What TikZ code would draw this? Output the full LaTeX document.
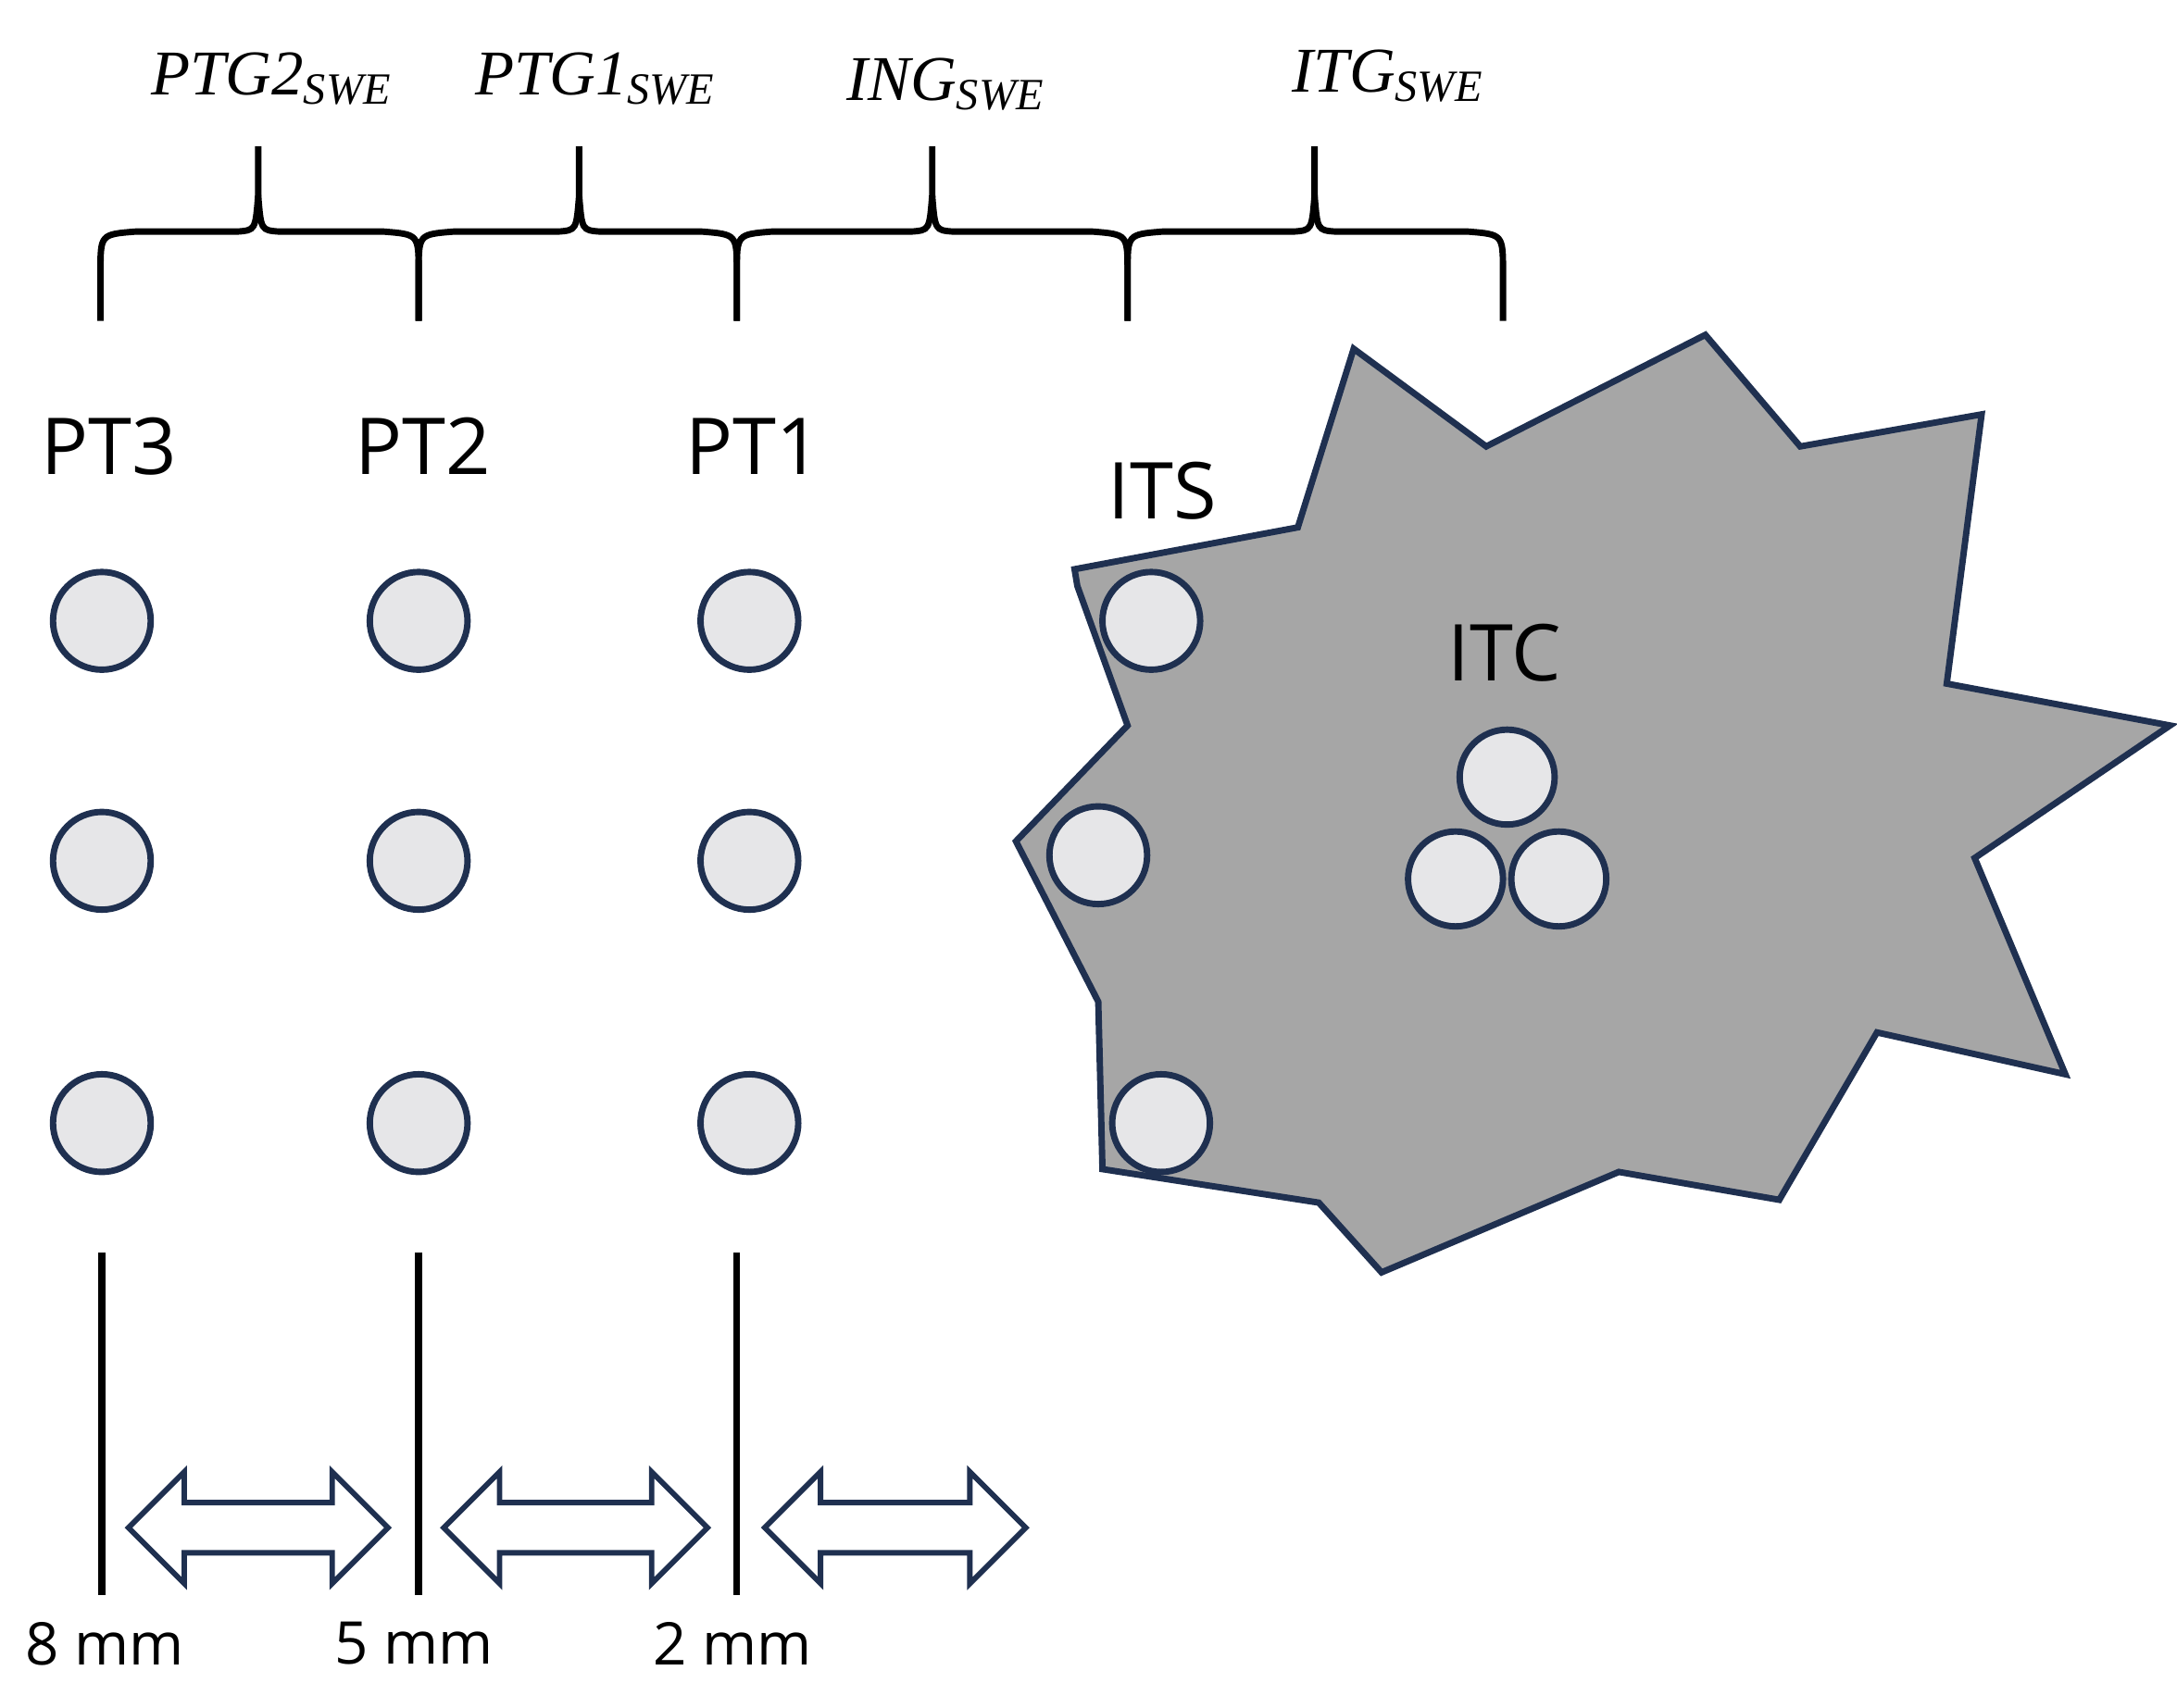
\documentclass[tikz,border=0pt]{standalone}
\usepackage{fontspec}
\setmainfont{Open Sans}
\newfontfamily\serifit{Liberation Serif}
\begin{document}
\begin{tikzpicture}[x=0.01cm,y=-0.01cm,
  navy/.style={draw={rgb,255:red,31;green,48;blue,80},line width=1.3pt},
  dot/.style={navy,fill={rgb,255:red,230;green,230;blue,232},circle,minimum size=0.7cm,inner sep=0},
  lbl/.style={font=\fontsize{16}{18}\selectfont},
  mm/.style={font=\fontsize{12}{14}\selectfont},
  brlab/.style={font=\serifit\itshape\fontsize{13}{15}\selectfont},
  brace/.style={line width=1.3pt,black},
  vline/.style={line width=1.4pt,black},
  darr/.style={navy,fill=white,line width=1.1pt}]
\useasboundingbox (0,0) rectangle (1560,1224);
% star
\path[navy,fill={rgb,255:red,166;green,166;blue,166}]
 (770,408) -- (930,378) -- (970,250) -- (1065,320) -- (1222,240) -- (1290,320) -- (1420,297) -- (1395,490) -- (1555,520) -- (1415,615) -- (1480,770) -- (1345,740) -- (1275,860) -- (1160,840) -- (990,912) -- (945,862) -- (790,838) -- (787,718) -- (728,603) -- (808,520) -- (772,420) -- cycle;
% dots
\foreach \x/\c in {73/3,300/2,537/1}{
  \node[dot] (r1c\c) at (\x,445) {};
  \node[dot] (r2c\c) at (\x,617) {};
  \node[dot] (r3c\c) at (\x,805) {};
}
\node[dot] (its1) at (825,445) {};
\node[dot] (its2) at (787,613) {};
\node[dot] (its3) at (832,805) {};
\node[dot,minimum size=0.68cm] (itc1) at (1080,557) {};
\node[dot,minimum size=0.68cm] (itc2) at (1043,630) {};
\node[dot,minimum size=0.68cm] (itc3) at (1117,630) {};
% labels
\node[lbl] (pt3) at (78,320) {PT3};
\node[lbl] (pt2) at (303,320) {PT2};
\node[lbl] (pt1) at (540,320) {PT1};
\node[lbl] (its) at (833,352) {ITS};
\node[lbl] (itc) at (1078,468) {ITC};
% braces
\foreach \a/\t/\b in {72/185/300,300/415/528,528/668/808,808/942/1077}{
  \draw[brace] (\a,230) -- (\a,195) .. controls (\a,168) .. (\a+25,166) -- (\t-15,166) .. controls (\t-2,165) .. (\t,140) -- (\t,105);
  \draw[brace] (\b,230) -- (\b,195) .. controls (\b,168) .. (\b-25,166) -- (\t+15,166) .. controls (\t+2,165) .. (\t,140);
}
\node[brlab,anchor=base] (g1) at (195,68) {PTG2\textsubscript{SWE}};
\node[brlab,anchor=base] (g2) at (427,68) {PTG1\textsubscript{SWE}};
\node[brlab,anchor=base] (g3) at (678,72) {ING\textsubscript{SWE}};
\node[brlab,anchor=base] (g4) at (995,66) {ITG\textsubscript{SWE}};
% vertical lines
\foreach \x in {73,300,528}{\draw[vline] (\x,898) -- (\x,1143);}
% double arrows
\foreach \a/\b in {92/278,318/507,548/735}{
  \path[darr] (\a,1095) -- (\a+40,1055) -- (\a+40,1077) -- (\b-40,1077) -- (\b-40,1055) -- (\b,1095) -- (\b-40,1135) -- (\b-40,1113) -- (\a+40,1113) -- (\a+40,1135) -- cycle;
}
\node[mm] (m8) at (75,1178) {8 mm};
\node[mm] (m5) at (297,1178) {5 mm};
\node[mm] (m2) at (525,1178) {2 mm};
\end{tikzpicture}
\end{document}
